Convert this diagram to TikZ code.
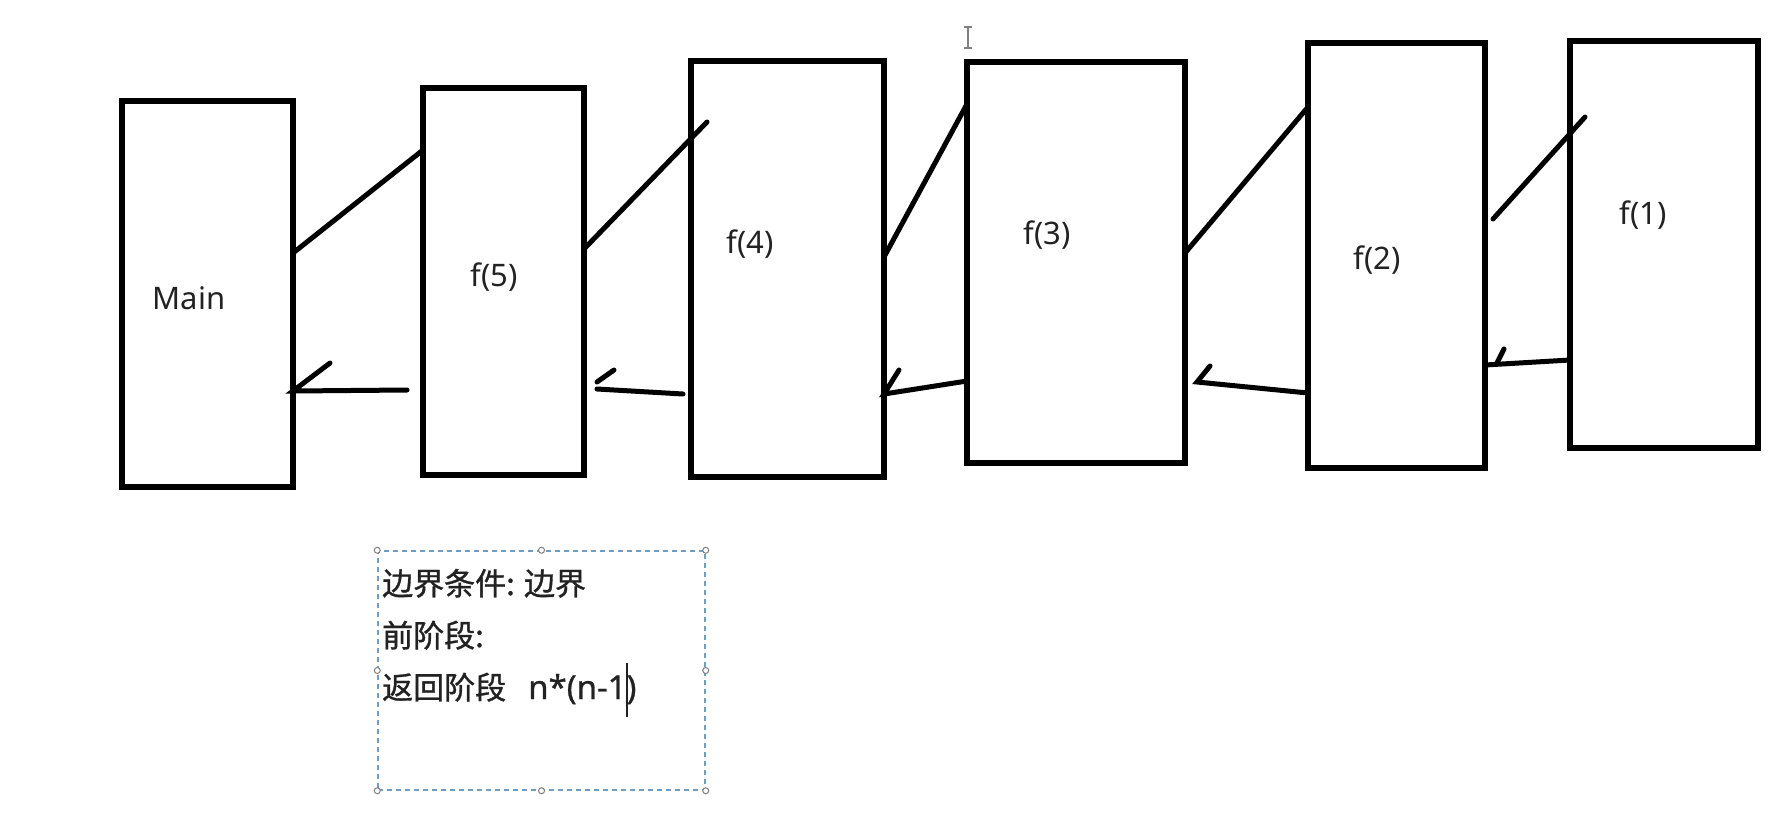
\documentclass[tikz,border=0pt]{standalone}
\usepackage{fontspec}
\setmainfont{Noto Sans}
\newfontfamily\cjk[FakeBold=1]{Noto Sans CJK SC}
\newfontfamily\notelatin[FakeBold=0.8]{Noto Sans}
\usepackage{tikz}
\usetikzlibrary{calc}

\definecolor{notebox}{HTML}{6F9EC2}
\definecolor{inkgray}{HTML}{222222}

\begin{document}
\begin{tikzpicture}[x=1pt,y=-1pt]
    \tikzstyle{every node}=[font=\fontsize{31}{37}\selectfont, text=inkgray]
    \tikzstyle{frame}=[draw, line width=6pt, inner sep=0pt, outer sep=0pt]
    \tikzstyle{call}=[line width=5pt, line cap=round]
    \tikzstyle{handle}=[draw=gray, fill=white, line width=1pt]
    \tikzstyle{notetext}=[anchor=base west, inner sep=0pt,
        font=\cjk\fontsize{31}{37}\selectfont]
    \useasboundingbox[fill=white] (0,0) rectangle (1782,828);

    % call frames
    \node[frame, minimum width=171pt, minimum height=386pt] (main) at (207.5,294) {};
    \node[frame, minimum width=161pt, minimum height=387pt] (f5) at (503.5,281.5) {};
    \node[frame, minimum width=193pt, minimum height=416pt] (f4) at (787.5,269) {};
    \node[frame, minimum width=218pt, minimum height=401pt] (f3) at (1076,262.5) {};
    \node[frame, minimum width=177pt, minimum height=425pt] (f2) at (1396.5,255.5) {};
    \node[frame, minimum width=188pt, minimum height=407pt] (f1) at (1664,244.5) {};

    \node (lmain) at (189,298) {Main};
    \node (lf5) at (494,277) {f(5)};
    \node (lf4) at (750,244) {f(4)};
    \node (lf3) at (1047,235) {f(3)};
    \node (lf2) at (1377,260) {f(2)};
    \node (lf1) at (1643,215) {f(1)};

    % going in
    \draw[call] (main.east |- 0,253) -- (f5.west |- 0,150);
    \draw[call] (f5.east |- 0,249) -- ($(f4.west |- 0,122)+(16,0)$);
    \draw[call] (f4.east |- 0,257) -- (f3.west |- 0,104);
    \draw[call] (f3.east |- 0,253) -- (f2.west |- 0,107);
    \draw[call] ($(f2.east |- 0,219)+(8,0)$) -- ($(f1.west |- 0,117)+(15,0)$);

    % coming back
    \draw[call] ($(f5.west |- 0,390)+(-16,0)$) -- (main.east |- 0,391) -- ++(37,-28);
    \draw[call] ($(f4.west |- 0,394)+(-8,0)$) -- ($(f5.east |- 0,389)+(13,0)$);
    \draw[call] ($(f5.east |- 0,382)+(13,0)$) -- ++(17,-12);
    \draw[call] (f3.west |- 0,381) -- (f4.east |- 0,394) -- ++(15,-24);
    \draw[call] (f2.west |- 0,393) -- ($(f3.east |- 0,382)+(12,0)$) -- ++(13,-16);
    \draw[call] (f1.west |- 0,360) -- (f2.east |- 0,365);
    \draw[call] ($(f2.east |- 0,363)+(12,0)$) -- ++(7,-14);

    % selected text box
    \node[draw=notebox, line width=1.5pt, dash pattern=on 5pt off 4pt,
        minimum width=327pt, minimum height=239pt, inner sep=0pt] (note) at (541.5,670.5) {};
    \draw[handle] (note.north west) circle (3pt);
    \draw[handle] (note.north) circle (3pt);
    \draw[handle] (note.north east) circle (3pt);
    \draw[handle] (note.east) circle (3pt);
    \draw[handle] (note.south east) circle (3pt);
    \draw[handle] (note.south) circle (3pt);
    \draw[handle] (note.south west) circle (3pt);
    \draw[handle] (note.west) circle (3pt);

    \node[notetext] (cond) at (382,595) {边界条件: 边界};
    \node[notetext] (front) at (382,647) {前阶段:};
    \node[notetext] (back) at (382,699)
        {返回阶段\hspace{22pt}{\notelatin\fontsize{33}{37}\selectfont n*(n-1)}};
    \draw[inkgray, line width=1.5pt] (627,663) -- (627,717);

    % mouse pointer
    \draw[gray, line width=1.5pt] (968,28) -- (968,47);
    \draw[gray, line width=1.5pt] (964,27) -- (972,27);
    \draw[gray, line width=1.5pt] (964,48) -- (972,48);
\end{tikzpicture}
\end{document}
